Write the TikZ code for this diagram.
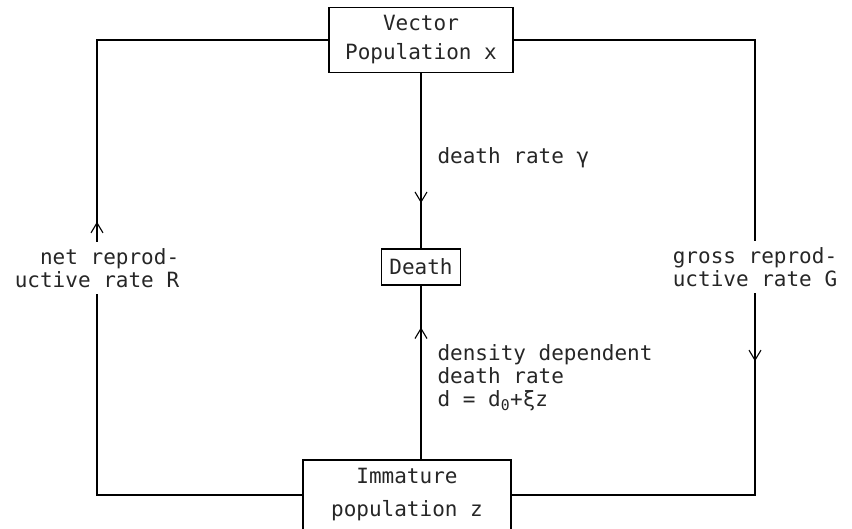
\documentclass[tikz,border=0pt]{standalone}
\usepackage{fontspec}
\setmonofont{DejaVu Sans Mono}
\usetikzlibrary{arrows.meta,decorations.markings}

\begin{document}
\begin{tikzpicture}[x=1pt, y=-1pt, line width=1.1pt,
    every node/.style={font=\ttfamily\fontsize{21}{23}\selectfont, text=black!85},
    box/.style={rectangle, draw, align=center, inner sep=0pt},
    lbl/.style={inner sep=6pt},
    flow/.style={postaction={decorate}, decoration={markings,
        mark=at position #1 with {\arrow{Straight Barb[length=10pt,width=12pt]}}}}]
    \useasboundingbox (0,0) rectangle (852,528);

    \node (vec) at (421,40) [box, minimum width=184pt, minimum height=65pt] {Vector\\[6pt]Population x};
    \node (death) at (421,267) [box, minimum width=79pt, minimum height=36pt] {Death};
    \node (imm) at (407,495) [box, minimum width=208pt, minimum height=70pt] {Immature\\[10pt]population z};

    \node (net) at (97,268) [lbl, align=right] {net reprod-\\uctive rate R};
    \node (gross) at (755,267) [lbl, align=center] {gross reprod-\\uctive rate G};
    \node (dr) at (437,158) [anchor=west, inner sep=0pt] {death rate γ};
    \node (dd) at (437,378) [anchor=west, inner sep=0pt, align=left] {density dependent\\death rate\\d = d\textsubscript{0}+ξz};

    \draw[flow=20pt] (net.north) |- (vec.west);
    \draw (imm.west) -| (net.south);
    \draw (vec.east) -| (gross.north);
    \draw[flow=68pt] (gross.south) |- (imm.east);
    \draw[flow=130pt] (vec.south) -- (death.north);
    \draw[flow=132pt] (death.south |- imm.north) -- (death.south);
\end{tikzpicture}
\end{document}
